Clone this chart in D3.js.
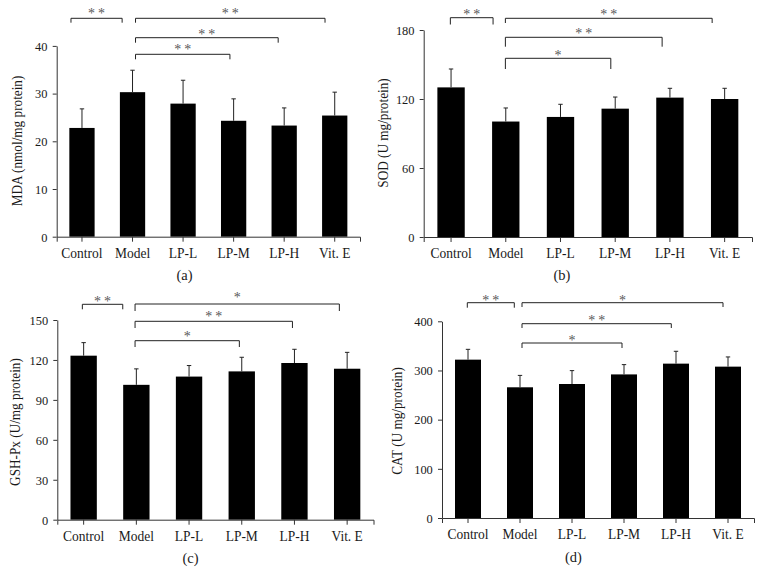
<!DOCTYPE html>
<html><head><meta charset="utf-8">
<script src="https://cdn.jsdelivr.net/npm/d3@7"></script>
<style>body{margin:0;background:#fff}svg{display:block}text{-webkit-font-smoothing:antialiased}</style>
</head><body>
<svg id="chart" width="764" height="584"></svg>
<script>
// ---------- data ----------
const categories = ["Control", "Model", "LP-L", "LP-M", "LP-H", "Vit. E"];

const mdaMean = [22.8, 30.3, 27.9, 24.3, 23.3, 25.4];
const mdaSD   = [4.0, 4.6, 4.9, 4.6, 3.7, 4.9];
const mdaTicks = [0, 10, 20, 30, 40];

const sodMean = [130.1, 100.4, 104.4, 111.6, 121.2, 120.0];
const sodSD   = [16.0, 11.8, 11.0, 10.1, 8.1, 9.3];
const sodTicks = [0, 60, 120, 180];

const gshMean = [123.2, 101.3, 107.5, 111.4, 117.7, 113.4];
const gshSD   = [9.8, 12.0, 8.3, 10.6, 10.3, 12.3];
const gshTicks = [0, 30, 60, 90, 120, 150];

const catMean = [322, 265.8, 272.5, 292, 313.9, 307.8];
const catSD   = [21, 24.2, 27.2, 19.9, 25.1, 19.7];
const catTicks = [0, 100, 200, 300, 400];

const mdaSig = [["Control","Model","**"],["Model","Vit. E","**"],["Model","LP-H","**"],["Model","LP-M","**"]];
const sodSig = [["Control","Model","**"],["Model","Vit. E","**"],["Model","LP-H","**"],["Model","LP-M","*"]];
const gshSig = [["Control","Model","**"],["Model","Vit. E","*"],["Model","LP-H","**"],["Model","LP-M","*"]];
const catSig = [["Control","Model","**"],["Model","Vit. E","*"],["Model","LP-H","**"],["Model","LP-M","*"]];

// ---------- layout ----------
const FONT = "'Liberation Serif','DejaVu Serif',serif";
const TXT = "#1a1a1a";
const panels = [
  {label:"(a)", mean:mdaMean, sd:mdaSD, ticks:mdaTicks, sig:mdaSig, title:"MDA (nmol/mg protein)",
   x0:56.7, x1:360, yB:236.7, yT:45.9, titleX:17.5, titleY:141, labelY:280,
   geom:[[-11,-10.4,18.3,22.7,11],[3,-9.7,18.3,22.7,11],[3,-6,37.7,42.7,32],[3,-3.7,54.3,59.3,47.7]]},
  {label:"(b)", mean:sodMean, sd:sodSD, ticks:sodTicks, sig:sodSig, title:"SOD (U mg/protein)",
   x0:423.7, x1:752, yB:237, yT:30, titleX:383, titleY:133, labelY:280,
   geom:[[-0.7,-12.7,17.7,24.5,12.3],[-0.4,-12.5,18.3,23,12.7],[-0.4,-7.8,37.3,46.7,31.7],[-0.4,-4.4,58.3,69,53.3]]},
  {label:"(c)", mean:gshMean, sd:gshSD, ticks:gshTicks, sig:gshSig, title:"GSH-Px (U/mg protein)",
   x0:57.3, x1:373.5, yB:519.7, yT:320, titleX:15.5, titleY:422, labelY:563,
   geom:[[-1.3,-13.6,304.3,309.3,299.3],[-1.3,-7.8,304,311,295.3],[-1.3,-2,321.3,328,314.7],[-1.3,-2.4,340.7,347,334.7]]},
  {label:"(d)", mean:catMean, sd:catSD, ticks:catTicks, sig:catSig, title:"CAT (U mg/protein)",
   x0:442, x1:754, yB:518, yT:321.3, titleX:397.5, titleY:421, labelY:562,
   geom:[[-0.7,-5.7,302.7,307.7,298],[2,-5,302.7,307,298.7],[2,-4.7,323.7,328,318.7],[2,-2,343,348,338]]}
];

const svg = d3.select("#chart");

panels.forEach(p => {
  const data = categories.map((c, i) => ({cat:c, mean:p.mean[i], sd:p.sd[i]}));
  const x = d3.scaleBand().domain(categories).range([p.x0, p.x1]).paddingInner(0.5).paddingOuter(0.25);
  const y = d3.scaleLinear().domain([0, d3.max(p.ticks)]).range([p.yB, p.yT]);
  const cx = c => x(c) + x.bandwidth() / 2;
  const g = svg.append("g");

  // bars
  g.selectAll("rect.bar").data(data).join("rect")
    .attr("x", d => x(d.cat)).attr("width", x.bandwidth())
    .attr("y", d => y(d.mean)).attr("height", d => y(0) - y(d.mean))
    .attr("fill", "#000");

  // error bars (upper only)
  g.selectAll("line.err").data(data).join("line")
    .attr("x1", d => cx(d.cat)).attr("x2", d => cx(d.cat))
    .attr("y1", d => y(d.mean)).attr("y2", d => y(d.mean + d.sd))
    .attr("stroke", "#222").attr("stroke-width", 1);
  g.selectAll("line.cap").data(data).join("line")
    .attr("x1", d => cx(d.cat) - 2.2).attr("x2", d => cx(d.cat) + 2.2)
    .attr("y1", d => y(d.mean + d.sd)).attr("y2", d => y(d.mean + d.sd))
    .attr("stroke", "#222").attr("stroke-width", 1);

  // axes
  const xa = g.append("g").attr("transform", `translate(0,${p.yB})`)
    .call(d3.axisBottom(x).tickSize(5).tickSizeOuter(5).tickPadding(6));
  const ya = g.append("g").attr("transform", `translate(${p.x0},0)`)
    .call(d3.axisLeft(y).tickValues(p.ticks).tickSize(4).tickSizeOuter(0).tickPadding(6));
  [xa, ya].forEach(a => a.selectAll("path,line").attr("stroke", "#333").attr("stroke-width", 1));
  xa.selectAll("text").attr("font-family", FONT).attr("font-size", "14.5px").attr("fill", TXT)
    .attr("dy", "0.68em").attr("transform", "scale(0.93,1)");
  ya.selectAll("text").attr("font-family", FONT).attr("font-size", "13.5px").attr("fill", TXT)
    .attr("transform", "scale(0.92,1)");

  // axis title
  g.append("text")
    .attr("transform", `translate(${p.titleX},${p.titleY}) rotate(-90) scale(0.945,1)`)
    .attr("text-anchor", "middle").attr("dominant-baseline", "central")
    .attr("font-family", FONT).attr("font-size", "14px").attr("fill", TXT)
    .text(p.title);

  // panel label
  g.append("text")
    .attr("x", cx("LP-L") + 1.5).attr("y", p.labelY)
    .attr("text-anchor", "middle")
    .attr("font-family", FONT).attr("font-size", "14.5px").attr("fill", TXT)
    .text(p.label);

  // significance brackets
  const sg = g.append("g").attr("opacity", 0.98);
  p.sig.forEach((s, i) => {
    const [dx1, dx2, yTop, yLeg, yLab] = p.geom[i];
    const xa1 = cx(s[0]) + dx1, xa2 = cx(s[1]) + dx2;
    g.append("path")
      .attr("d", `M${xa1},${yLeg}V${yTop}H${xa2}V${yLeg}`)
      .attr("fill", "none").attr("stroke", "#222").attr("stroke-width", 1);
    sg.append("text")
      .attr("x", (xa1 + xa2) / 2 + (s[2].length > 1 ? 1.5 : 0)).attr("y", yLab + 6.5)
      .attr("text-anchor", "middle")
      .attr("font-family", FONT).attr("font-size", "14px").attr("fill", "#555")
      .attr("letter-spacing", s[2].length > 1 ? "3px" : "0px")
      .text(s[2]);
  });
});
</script>
</body></html>
